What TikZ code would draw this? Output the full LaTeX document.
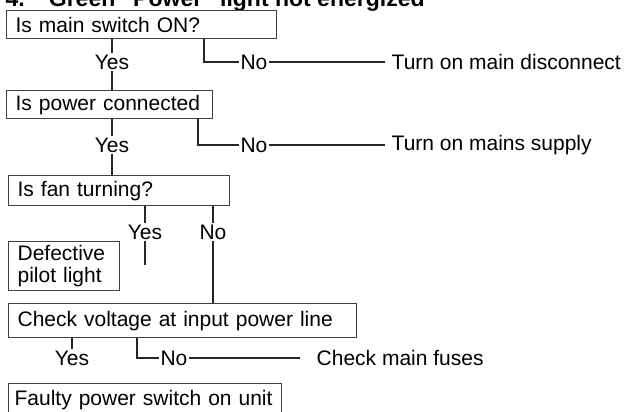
\documentclass[tikz,border=0pt]{standalone}
\usepackage{fontspec}
\setmainfont{Liberation Sans}

\tikzset{
    kasten/.style={draw=black!75, line width=1.2pt, anchor=north west, inner xsep=9pt, inner ysep=0pt, align=left, font=\fontsize{21}{22}\selectfont},
    antwort/.style={inner sep=1pt, font=\fontsize{21}{22}\selectfont},
    ziel/.style={anchor=west, inner xsep=6pt, font=\fontsize{21}{22}\selectfont},
    titel/.style={anchor=base west, inner sep=0pt, font=\fontsize{23}{24}\bfseries}
}

\begin{document}
\begin{tikzpicture}[x=1pt, y=-1pt, line width=1.4pt, draw=black!85]
    \clip (0,0) rectangle (627,412);
    \path node[titel] (T) at (5,7) {4.\hspace{24pt}Green ``Power'' light not energized}
        node[kasten, text width=252pt, minimum height=28pt] (S) at (6,10) {Is main switch ON?}
        node[antwort] (SY) at (112,62) {Yes}
        node[antwort] (SN) at (254,62) {No}
        node[ziel] (SA) at (385,62) {Turn on main disconnect}
        node[kasten, text width=188pt, minimum height=28pt] (P) at (6,90) {Is power connected}
        node[antwort] (PY) at (112,145) {Yes}
        node[antwort] (PN) at (254,145) {No}
        node[ziel] (PA) at (385,145) {Turn on mains supply}
        node[kasten, text width=203pt, minimum height=30pt] (F) at (8,175) {Is fan turning?}
        node[antwort] (FY) at (145,232) {Yes}
        node[antwort] (FN) at (213,232) {No}
        node[kasten, text width=93pt, minimum height=49pt] (D) at (8,241) {Defective\\pilot light}
        node[kasten, text width=330pt, minimum height=34pt] (C) at (8,303) {Check voltage at input power line}
        node[antwort] (CY) at (72,358) {Yes}
        node[antwort] (CN) at (174,358) {No}
        node[ziel, inner xsep=16pt] (CA) at (300,358) {Check main fuses}
        node[kasten, inner xsep=6pt, text width=261pt, minimum height=32pt] (U) at (8,383) {Faulty power switch on unit};
    \coordinate (SK) at (204,62);
    \coordinate (PK) at (198,145);
    \coordinate (CK) at (137,358);
    \coordinate (FE) at (145,265);
    % main switch
    \draw (SY |- S.south) -- (SY.north);
    \draw (SY.south) -- (SY |- P.north);
    \draw (S.south -| SK) |- (SN.west);
    \draw (SN.east) -- (SA.west);
    % power
    \draw (PY |- P.south) -- (PY.north);
    \draw (PY.south) -- (PY |- F.north);
    \draw (P.south -| PK) |- (PN.west);
    \draw (PN.east) -- (PA.west);
    % fan
    \draw (FY |- F.south) -- (FY.north);
    \draw (FY.south) -- (FE);
    \draw (FN |- F.south) -- (FN.north);
    \draw (FN.south) -- (FN |- C.north);
    % voltage
    \draw (CY |- C.south) -- (CY.north);
    \draw (C.south -| CK) |- (CN.west);
    \draw (CN.east) -- (CA.west);
\end{tikzpicture}
\end{document}
